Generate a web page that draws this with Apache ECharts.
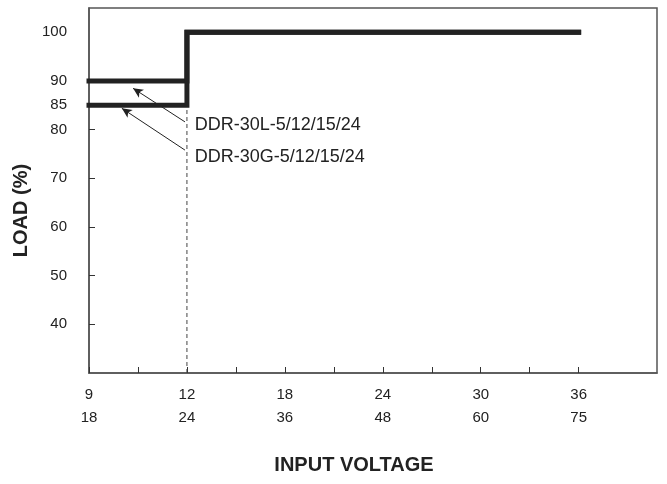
<!DOCTYPE html><html><head><meta charset="utf-8">
<script src="https://cdn.jsdelivr.net/npm/echarts@6/dist/echarts.min.js"></script>
<style>html,body{margin:0;background:#fff}#c{width:667px;height:484px}</style></head><body><div id="c"></div>
<script>
const xTop = {0:'9',2:'12',4:'18',6:'24',8:'30',10:'36'};
const xBot = {0:'18',2:'24',4:'36',6:'48',8:'60',10:'75'};
const xTicks = [0,1,2,3,4,5,6,7,8,9,10];
const yShown = [40,50,60,70,80,85,90,100];
const seriesL = [[0,90],[2,90],[2,100],[10,100]];
const seriesG = [[0,85],[2,85],[2,100],[10,100]];
const dashed = [[2,30],[2,85]];
const labelL = {text:'DDR-30L-5/12/15/24', from:[1.96,81.6], to:[0.9,88.5], at:[2.15,80.9]};
const labelG = {text:'DDR-30G-5/12/15/24', from:[1.96,75.8], to:[0.67,84.4], at:[2.15,74.4]};
const font = '"Liberation Sans", Arial, sans-serif';
const chart = echarts.init(document.getElementById('c'));
function arrow(l){return {type:'line',data:[],symbol:'none',silent:true,
  markLine:{silent:true,symbol:['none','arrow'],symbolSize:[7,10],lineStyle:{color:'#222',width:1,type:'solid'},label:{show:false},
  data:[[{coord:l.from},{coord:l.to}]]},
  markPoint:{symbol:'rect',symbolSize:1,itemStyle:{color:'transparent'},data:[{coord:l.at,label:{show:true,position:'right',distance:0,formatter:l.text,color:'#222',fontSize:18,fontFamily:font}}]}};}
chart.setOption({
  animation:false,
  grid:{left:89,right:10,top:8,bottom:111,show:true,borderColor:'#555',borderWidth:1.5},
  xAxis:{type:'value',min:0,max:11.6,interval:1,
    axisLine:{lineStyle:{color:'#555',width:1.5}},
    axisTick:{inside:true,length:6,lineStyle:{color:'#333'},customValues:xTicks},
    splitLine:{show:false},
    axisLabel:{color:'#222',fontSize:15,fontFamily:font,lineHeight:23,margin:10,
      customValues:[0,2,4,6,8,10],
      formatter:v=>xTop[v]!==undefined?xTop[v]+'\n'+xBot[v]:''},
    name:'INPUT VOLTAGE',nameLocation:'middle',nameGap:82,
    nameTextStyle:{fontSize:20,fontWeight:'bold',color:'#222',fontFamily:font,padding:[0,0,0,-38]}},
  yAxis:{type:'value',min:30,max:105,interval:5,
    axisLine:{lineStyle:{color:'#555',width:1.5}},
    axisTick:{inside:true,length:6,lineStyle:{color:'#333'},customValues:[40,50,60,70,80]},
    splitLine:{show:false},
    axisLabel:{color:'#222',fontSize:15,fontFamily:font,margin:22,
      customValues:yShown,formatter:v=>String(v)},
    name:'LOAD (%)',nameLocation:'middle',nameGap:50,
    nameTextStyle:{fontSize:20,fontWeight:'bold',color:'#222',fontFamily:font,padding:[0,0,0,-40]}},
  series:[
    {type:'line',data:dashed,symbol:'none',lineStyle:{color:'#444',width:1,type:[4,3]}},
    {type:'line',data:seriesL,symbol:'none',lineStyle:{color:'#222',width:5,cap:'square',join:'miter'}},
    {type:'line',data:seriesG,symbol:'none',lineStyle:{color:'#222',width:5,cap:'square',join:'miter'}},
    arrow(labelL),arrow(labelG)
  ]
});
</script></body></html>
